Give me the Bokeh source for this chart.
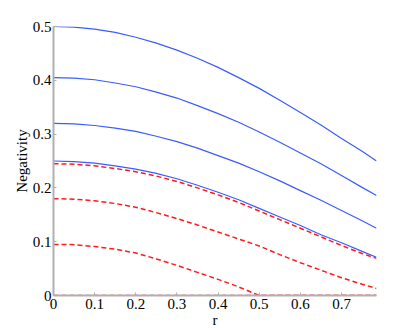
from bokeh.plotting import figure
from bokeh.models import Range1d, FixedTicker
from bokeh.embed import file_html
from bokeh.resources import INLINE

r = [0.0, 0.05, 0.1, 0.15, 0.2, 0.25, 0.3, 0.35, 0.4, 0.45, 0.5, 0.55, 0.6, 0.65, 0.7, 0.75, 0.785]

blue1 = [0.500, 0.499, 0.495, 0.489, 0.480, 0.469, 0.456, 0.441, 0.424, 0.405, 0.385, 0.363, 0.340, 0.317, 0.292, 0.268, 0.250]
blue2 = [0.405, 0.404, 0.401, 0.395, 0.388, 0.378, 0.367, 0.353, 0.338, 0.322, 0.304, 0.285, 0.265, 0.245, 0.223, 0.201, 0.186]
blue3 = [0.320, 0.319, 0.316, 0.311, 0.305, 0.296, 0.286, 0.274, 0.260, 0.246, 0.230, 0.213, 0.195, 0.177, 0.158, 0.139, 0.125]
blue4 = [0.250, 0.249, 0.246, 0.241, 0.235, 0.227, 0.217, 0.205, 0.192, 0.178, 0.162, 0.146, 0.130, 0.113, 0.098, 0.082, 0.071]

red1 = [0.245, 0.244, 0.241, 0.236, 0.230, 0.222, 0.212, 0.200, 0.187, 0.173, 0.157, 0.141, 0.125, 0.109, 0.093, 0.078, 0.069]
red2 = [0.180, 0.179, 0.176, 0.171, 0.164, 0.154, 0.143, 0.131, 0.118, 0.105, 0.092, 0.076, 0.061, 0.047, 0.033, 0.021, 0.013]
red3 = [0.095, 0.0945, 0.091, 0.086, 0.079, 0.068, 0.056, 0.043, 0.030, 0.016, 0.0, 0.0, 0.0, 0.0, 0.0, 0.0, 0.0]
red4 = [0.0] * 17

xticks = [0, 0.1, 0.2, 0.3, 0.4, 0.5, 0.6, 0.7]
yticks = [0, 0.1, 0.2, 0.3, 0.4, 0.5]

p = figure(frame_width=323, frame_height=269, output_backend="svg", toolbar_location=None,
           x_range=Range1d(0, 0.785), y_range=Range1d(0, 0.5),
           min_border_left=53, min_border_right=30, min_border_top=26, min_border_bottom=30)
p.outline_line_color = None
p.xgrid.visible = False
p.ygrid.visible = False
p.background_fill_color = "white"
p.border_fill_color = "white"

BLUE = "#3a5cff"
RED = "#ff1a1a"
for ys in [blue1, blue2, blue3, blue4]:
    p.line(r, ys, line_color=BLUE, line_width=1.2)
for ys in [red1, red2, red3, red4]:
    p.line(r, ys, line_color=RED, line_width=1.5, line_dash="5 3")

for ax in [p.xaxis[0], p.yaxis[0]]:
    ax.axis_line_color = "#b0b0b0"
    ax.axis_line_width = 2
    ax.major_tick_line_color = "#b0b0b0"
    ax.major_tick_in = 3
    ax.major_tick_out = 0
    ax.minor_tick_line_color = None
    ax.major_label_text_font = "Liberation Serif"
    ax.major_label_text_font_size = "15px"
    ax.major_label_text_color = "black"
    ax.axis_label_text_font = "Liberation Serif"
    ax.axis_label_text_font_size = "15px"
    ax.axis_label_text_font_style = "normal"
    ax.axis_label_text_color = "black"

p.xaxis.ticker = FixedTicker(ticks=xticks)
p.yaxis.ticker = FixedTicker(ticks=yticks)
p.xaxis.major_label_overrides = {0: "0"}
p.yaxis.major_label_overrides = {0: "0"}
p.xaxis.axis_label = "r"
p.yaxis.axis_label = "Negativity"
p.xaxis.major_label_standoff = 3
p.yaxis.major_label_standoff = 2
p.xaxis.axis_label_standoff = 0
p.yaxis.axis_label_standoff = 0

open("out.html", "w").write(file_html(p, INLINE))
